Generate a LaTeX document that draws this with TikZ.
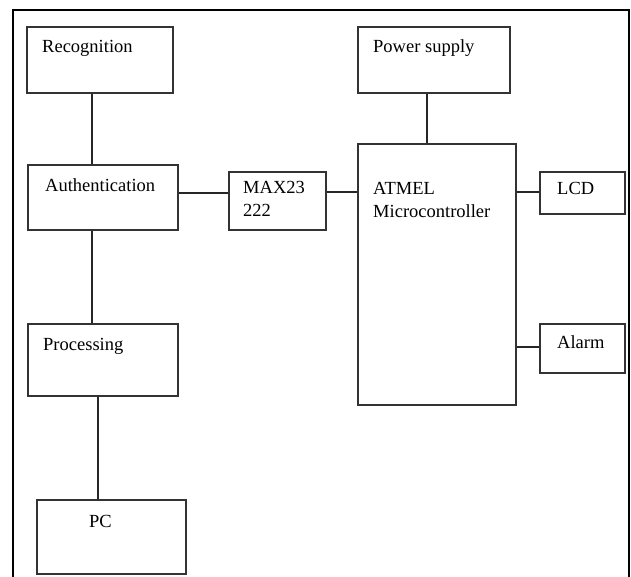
\documentclass[tikz,border=0pt]{standalone}
\usepackage{fontspec}
\setmainfont{Liberation Serif}
\begin{document}
\begin{tikzpicture}[x=1pt,y=-1pt,
  blk/.style={draw=black!80,line width=1.8pt,rectangle,inner sep=0pt,anchor=north west},
  lbl/.style={anchor=base west,inner sep=0pt,font=\fontsize{18.5}{23}\selectfont,text=black},
  conn/.style={draw=black!85,line width=1.5pt}]
\useasboundingbox (0,0) rectangle (631,577);
% outer frame
\draw[black,line width=1.8pt] (13,590) -- (13,10) -- (629,10) -- (629,590);
% boxes
\node[blk,minimum width=146,minimum height=66] (rec) at (26,26) {};
\node[blk,minimum width=150,minimum height=65] (auth) at (27,164) {};
\node[blk,minimum width=150,minimum height=72] (proc) at (27,323) {};
\node[blk,minimum width=149,minimum height=74] (pc) at (36,499) {};
\node[blk,minimum width=97,minimum height=58] (max) at (228,171) {};
\node[blk,minimum width=152,minimum height=66] (pow) at (357,26) {};
\node[blk,minimum width=158,minimum height=261] (atm) at (357,143) {};
\node[blk,minimum width=85,minimum height=42] (lcd) at (539,171) {};
\node[blk,minimum width=85,minimum height=49] (alm) at (539,323) {};
% labels
\node[lbl] (recT) at (42,53) {Recognition};
\node[lbl] (authT) at (45,192) {Authentication};
\node[lbl] (procT) at (43,350) {Processing};
\node[lbl] (pcT) at (89,527) {PC};
\node[lbl] (maxT) at (243,194) {MAX23};
\node[lbl] (maxT2) at (243,217) {222};
\node[lbl] (powT) at (373,53) {Power supply};
\node[lbl] (atmT) at (373,195) {ATMEL};
\node[lbl] (atmT2) at (373,218) {Microcontroller};
\node[lbl] (lcdT) at (557,195) {LCD};
\node[lbl] (almT) at (557,348) {Alarm};
% guide coordinates
\coordinate (xa) at (92,0);
\coordinate (xb) at (98,0);
\coordinate (xc) at (427,0);
\coordinate (ya) at (0,193);
\coordinate (yb) at (0,192);
\coordinate (yc) at (0,347);
% connectors
\draw[conn] (rec.south -| xa) -- (auth.north -| xa);
\draw[conn] (auth.south -| xa) -- (proc.north -| xa);
\draw[conn] (proc.south -| xb) -- (pc.north -| xb);
\draw[conn] (auth.east |- ya) -- (max.west |- ya);
\draw[conn] (max.east |- yb) -- (atm.west |- yb);
\draw[conn] (pow.south -| xc) -- (atm.north -| xc);
\draw[conn] (atm.east |- yb) -- (lcd.west |- yb);
\draw[conn] (atm.east |- yc) -- (alm.west |- yc);
\end{tikzpicture}
\end{document}
